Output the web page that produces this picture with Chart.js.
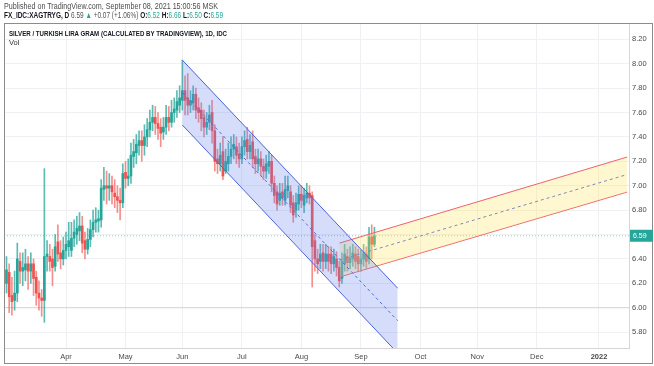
<!DOCTYPE html>
<html lang="en">
  <head>
    <meta charset="UTF-8" />
    <title>XAGTRYG - daily</title>
    <script src="https://cdn.jsdelivr.net/npm/chart.js@4.4.0/dist/chart.umd.min.js"></script>
    <style>
      html, body { margin: 0; padding: 0; background: #fff; }
      .wrap { position: relative; width: 654px; height: 366px; overflow: hidden; font-family: 'Liberation Sans', Arial, sans-serif; }
      canvas { position: absolute; left: 0; top: 0; }
      .txt { position: absolute; white-space: nowrap; transform-origin: 0 0; line-height: 1; }
      .b { font-weight: bold; color: #131722; }
      .g { color: #26a69a; }
    </style>
  </head>
  <body>
    <div class="wrap">
      <canvas id="myChart" width="654" height="366"></canvas>
      <div class="txt" data-w="214" style="left:4px;top:1.5px;font-size:8.5px;color:#4c4c4c;">Published on TradingView.com, September 08, 2021 15:00:56 MSK</div>
      <div class="txt" data-w="219" style="left:4px;top:11px;font-size:8.5px;color:#555;"><span class="b">FX_IDC:XAGTRYG, D</span> 6.59 <span class="g">&#9650;</span> +0.07 (+1.06%) <span class="b">O:</span><span class="g">6.52</span> <span class="b">H:</span><span class="g">6.66</span> <span class="b">L:</span><span class="g">6.50</span> <span class="b">C:</span><span class="g">6.59</span></div>
      <div class="txt b" data-w="218" style="left:9px;top:30px;font-size:8px;">SILVER / TURKISH LIRA GRAM (CALCULATED BY TRADINGVIEW), 1D, IDC</div>
      <div class="txt" style="left:9px;top:39px;font-size:7.5px;color:#333;">Vol</div>
    </div>
    <script>
      // bar index 0 = 1 Apr 2021, one bar per weekday
      const monthLabels = ['Apr', 'May', 'Jun', 'Jul', 'Aug', 'Sep', 'Oct', 'Nov', 'Dec', '2022'];
      const monthStartBar = [0, 22, 43, 65, 87, 109, 131, 152, 174, 197];
      const priceTicks = [5.8, 6.0, 6.2, 6.4, 6.6, 6.8, 7.0, 7.2, 7.4, 7.6, 7.8, 8.0, 8.2];

      const firstBar = -22;
      const opens = [
        6.20, 6.29, 6.10, 6.06, 6.12, 6.38, 6.30, 6.31, 6.36, 6.30, 6.36, 6.25, 6.12, 6.08,
        6.06, 6.42, 6.42, 6.40, 6.34, 6.54, 6.45, 6.40,
        6.47, 6.50, 6.47, 6.57, 6.60, 6.63, 6.67, 6.55, 6.48, 6.56, 6.64, 6.70, 6.71, 6.72,
        6.97, 7.00, 6.98, 7.00, 6.94, 6.91, 6.88, 6.86, 7.11, 7.06, 7.08, 7.24, 7.27, 7.33,
        7.37, 7.33, 7.40, 7.46, 7.52, 7.56, 7.51, 7.48, 7.44, 7.48, 7.56, 7.52, 7.60, 7.62,
        7.66, 7.70, 7.78, 7.72, 7.66, 7.68, 7.75, 7.64, 7.62, 7.56, 7.48, 7.52, 7.60, 7.45,
        7.22, 7.18, 7.28, 7.12, 7.18, 7.24, 7.30, 7.32, 7.26, 7.22, 7.32, 7.38, 7.28, 7.36,
        7.24, 7.18, 7.22, 7.16, 7.12, 7.16, 7.20, 7.02, 6.95, 6.88, 6.95, 6.88, 6.96, 6.95,
        6.86, 6.80, 6.85, 6.93, 6.84, 6.90, 6.94, 6.92, 6.55, 6.40, 6.38, 6.45, 6.38, 6.44,
        6.44, 6.36, 6.40, 6.33, 6.24, 6.36, 6.42, 6.37, 6.40, 6.44, 6.42, 6.36, 6.40, 6.44,
        6.40, 6.58, 6.52
      ];
      const highs = [
        6.42, 6.36, 6.25, 6.30, 6.53, 6.45, 6.45, 6.48, 6.42, 6.45, 6.40, 6.30, 6.22, 6.15,
        7.14, 6.55, 6.52, 6.48, 6.60, 6.68, 6.55, 6.58,
        6.62, 6.70, 6.70, 6.72, 6.75, 6.78, 6.75, 6.62, 6.65, 6.72, 6.80, 6.82, 6.80, 7.05,
        7.15, 7.12, 7.10, 7.08, 7.05, 7.00, 6.98, 7.18, 7.20, 7.22, 7.35, 7.38, 7.42, 7.45,
        7.45, 7.50, 7.55, 7.62, 7.66, 7.65, 7.60, 7.55, 7.56, 7.66, 7.65, 7.70, 7.72, 7.78,
        7.82, 8.03, 7.90, 7.92, 7.78, 7.82, 7.80, 7.72, 7.68, 7.62, 7.60, 7.66, 7.70, 7.50,
        7.30, 7.35, 7.40, 7.30, 7.35, 7.40, 7.42, 7.40, 7.35, 7.40, 7.45, 7.48, 7.42, 7.45,
        7.30, 7.30, 7.28, 7.22, 7.25, 7.28, 7.25, 7.08, 7.00, 7.02, 7.02, 7.08, 7.08, 7.00,
        6.92, 6.94, 7.00, 7.00, 6.98, 7.02, 7.00, 6.95, 6.60, 6.48, 6.52, 6.52, 6.52, 6.50,
        6.50, 6.48, 6.46, 6.38, 6.45, 6.52, 6.48, 6.50, 6.52, 6.50, 6.48, 6.47, 6.52, 6.50,
        6.66, 6.68, 6.66
      ];
      const lows = [
        6.12, 5.96, 5.94, 5.98, 6.05, 6.20, 6.18, 6.22, 6.15, 6.20, 6.10, 6.02, 5.98, 5.93,
        5.88, 6.30, 6.30, 6.18, 6.30, 6.38, 6.32, 6.35,
        6.40, 6.42, 6.42, 6.50, 6.52, 6.55, 6.45, 6.40, 6.44, 6.50, 6.58, 6.62, 6.62, 6.66,
        6.88, 6.85, 6.88, 6.85, 6.82, 6.78, 6.72, 6.82, 6.98, 7.00, 7.02, 7.15, 7.18, 7.25,
        7.20, 7.25, 7.32, 7.40, 7.45, 7.42, 7.38, 7.32, 7.38, 7.42, 7.45, 7.48, 7.52, 7.56,
        7.60, 7.62, 7.58, 7.58, 7.60, 7.62, 7.55, 7.52, 7.45, 7.40, 7.42, 7.46, 7.35, 7.12,
        7.10, 7.12, 7.05, 7.10, 7.12, 7.18, 7.22, 7.18, 7.15, 7.18, 7.25, 7.22, 7.22, 7.15,
        7.10, 7.12, 7.08, 7.05, 7.06, 7.10, 6.95, 6.86, 6.80, 6.84, 6.84, 6.84, 6.90, 6.78,
        6.70, 6.74, 6.80, 6.82, 6.78, 6.86, 6.85, 6.17, 6.30, 6.28, 6.32, 6.30, 6.32, 6.30,
        6.28, 6.30, 6.26, 6.17, 6.20, 6.30, 6.30, 6.32, 6.34, 6.32, 6.30, 6.30, 6.34, 6.32,
        6.36, 6.40, 6.50
      ];
      const closes = [
        6.31, 6.09, 6.05, 6.12, 6.40, 6.30, 6.33, 6.36, 6.30, 6.36, 6.24, 6.12, 6.08, 6.06,
        6.42, 6.44, 6.38, 6.33, 6.50, 6.44, 6.40, 6.47,
        6.52, 6.55, 6.57, 6.62, 6.65, 6.67, 6.53, 6.48, 6.56, 6.64, 6.70, 6.72, 6.73, 6.98,
        7.00, 6.98, 7.00, 6.95, 6.91, 6.88, 6.86, 7.10, 7.06, 7.08, 7.25, 7.28, 7.34, 7.37,
        7.33, 7.40, 7.46, 7.52, 7.56, 7.51, 7.47, 7.43, 7.48, 7.56, 7.52, 7.60, 7.63, 7.69,
        7.72, 7.78, 7.70, 7.66, 7.70, 7.75, 7.62, 7.60, 7.55, 7.48, 7.52, 7.58, 7.45, 7.20,
        7.18, 7.25, 7.08, 7.20, 7.24, 7.30, 7.34, 7.25, 7.22, 7.32, 7.37, 7.28, 7.33, 7.22,
        7.18, 7.22, 7.16, 7.12, 7.18, 7.20, 7.02, 6.92, 6.85, 6.94, 6.90, 6.97, 7.00, 6.84,
        6.76, 6.86, 6.93, 6.88, 6.92, 6.94, 6.90, 6.50, 6.40, 6.36, 6.44, 6.38, 6.44, 6.38,
        6.36, 6.42, 6.33, 6.22, 6.38, 6.44, 6.37, 6.41, 6.45, 6.38, 6.36, 6.40, 6.44, 6.38,
        6.58, 6.52, 6.59
      ];

      // drawings: regression channel (blue) and parallel channel (yellow)
      const regChannelBars = [43, 122.6];
      const regUpper = [8.03, 6.16];
      const regMiddle = [7.764, 5.894];
      const regLower = [7.498, 5.628];
      const parChannelBars = [101.1, 207.4];
      const parUpper = [6.53, 7.235];
      const parMiddle = [6.391, 7.092];
      const parLower = [6.252, 6.948];
      const lastClose = 6.59;
      const levelLine = 6.0;

      const xMin = -22.92;
      const xMax = 208.1;
      const UP = '#26a69a';
      const DOWN = '#ef5350';

      const pts = (xs, ys) => xs.map((x, k) => ({ x: x, y: ys[k] }));
      const isUp = (k) => closes[k] >= opens[k];

      const wicks = closes.map((c, k) => ({ x: firstBar + k, y: [lows[k], highs[k]] }));
      const bodies = closes.map((c, k) => ({ x: firstBar + k, y: [opens[k], c] }));

      const lineDs = (data, color, extra) => Object.assign({
        type: 'line', data: data, borderColor: color, borderWidth: 1,
        pointRadius: 0, fill: false, tension: 0, order: 0,
      }, extra || {});

      const frame = {
        id: 'frame',
        afterDraw(chart) {
          const { ctx, chartArea, scales } = chart;
          ctx.save();
          ctx.strokeStyle = '#8c8c8c';
          ctx.lineWidth = 1;
          ctx.strokeRect(4.5, 23.5, 648, 340);
          const y = scales.y.getPixelForValue(lastClose);
          ctx.fillStyle = UP;
          ctx.fillRect(chartArea.right + 1, y - 6, 23, 12);
          ctx.fillStyle = '#fff';
          ctx.font = '7px "Liberation Sans", Arial';
          ctx.textBaseline = 'middle';
          ctx.fillText(lastClose.toFixed(2), chartArea.right + 4, y + 0.5);
          ctx.restore();
        },
      };

      const config = {
        type: 'bar',
        data: {
          datasets: [
            lineDs(pts(regChannelBars, regUpper), '#4a62d8', { fill: '+1', backgroundColor: 'rgba(100,128,240,0.27)' }),
            lineDs(pts(regChannelBars, regLower), '#4a62d8'),
            lineDs(pts(regChannelBars, regMiddle), '#4a62d8', { borderDash: [3, 3] }),
            lineDs(pts(parChannelBars, parUpper), '#f0606a', { fill: '+1', backgroundColor: 'rgba(255,230,100,0.3)' }),
            lineDs(pts(parChannelBars, parLower), '#f0606a'),
            lineDs(pts(parChannelBars, parMiddle), '#4a62d8', { borderDash: [3, 3] }),
            lineDs(pts([xMin, xMax], [lastClose, lastClose]), 'rgba(38,166,154,0.55)', { borderDash: [1, 2], order: 1 }),
            lineDs(pts([xMin, xMax], [levelLine, levelLine]), '#d4d4d4', { order: 4 }),
            {
              data: wicks, barThickness: 1, grouped: false, order: 3,
              backgroundColor: (c) => (isUp(c.dataIndex) ? 'rgba(38,166,154,0.75)' : 'rgba(239,83,80,0.65)'),
            },
            {
              data: bodies, barThickness: 2, minBarLength: 1, grouped: false, order: 2,
              backgroundColor: (c) => (isUp(c.dataIndex) ? UP : DOWN),
            },
          ],
        },
        options: {
          responsive: false,
          devicePixelRatio: 1,
          animation: false,
          layout: { padding: { left: 4, top: 23, right: 1, bottom: 2 } },
          plugins: { legend: { display: false }, tooltip: { enabled: false } },
          scales: {
            x: {
              type: 'linear', min: xMin, max: xMax, offset: false,
              afterBuildTicks: (s) => { s.ticks = monthStartBar.map((v) => ({ value: v })); },
              afterFit: (s) => { s.height = 16; },
              grid: { color: '#eef0f3', drawTicks: false, offset: false },
              border: { color: '#d6d6d6' },
              ticks: {
                padding: 4, color: '#4a4a4a', maxRotation: 0, autoSkip: false,
                font: (c) => ({ family: '"Liberation Sans", Arial', size: 7.5, weight: c.index === monthLabels.length - 1 ? 'bold' : 'normal' }),
                callback: (v) => monthLabels[monthStartBar.indexOf(v)],
              },
            },
            y: {
              type: 'linear', position: 'right', min: 5.670, max: 8.334,
              afterBuildTicks: (s) => { s.ticks = priceTicks.map((v) => ({ value: v })); },
              afterFit: (s) => { s.width = 24; },
              grid: { color: '#eef0f3', drawTicks: false },
              border: { color: '#d6d6d6' },
              ticks: {
                padding: 3, color: '#4a4a4a',
                font: { family: '"Liberation Sans", Arial', size: 7.5 },
                callback: (v) => Number(v).toFixed(2),
              },
            },
          },
        },
        plugins: [frame],
      };

      new Chart(document.getElementById('myChart'), config);

      // squeeze header texts to the reference widths
      document.querySelectorAll('.txt[data-w]').forEach((el) => {
        const w = el.getBoundingClientRect().width;
        el.style.transform = 'scaleX(' + (Number(el.dataset.w) / w) + ')';
      });
    </script>
  </body>
</html>
